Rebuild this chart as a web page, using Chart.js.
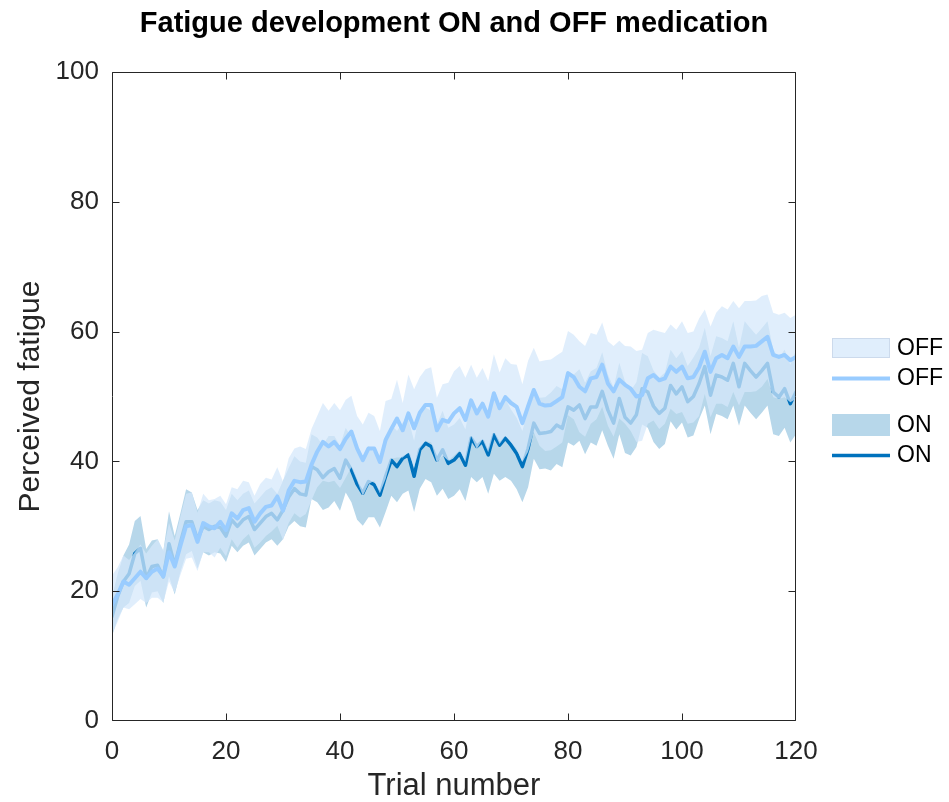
<!DOCTYPE html>
<html><head><meta charset="utf-8">
<script src="https://cdn.jsdelivr.net/npm/chart.js@4.4.1/dist/chart.umd.min.js"></script>
<style>html,body{margin:0;padding:0;background:#fff}#wrap{width:949px;height:802px;position:relative}</style>
</head><body><div id="wrap"><canvas id="c" width="949" height="802"></canvas></div>
<script>
// ---- data (trial number = array index 0..120) ----
const offMean = [17.9,19.5,21.5,21.0,22.0,23.0,22.0,23.0,23.5,22.3,
 26.0,23.8,27.0,30.0,30.2,27.6,30.5,30.0,29.7,30.7,
 29.4,32.0,31.2,32.5,32.8,30.7,32.0,33.0,33.2,34.6,
 32.4,35.5,37.0,36.8,36.9,39.5,41.5,43.0,42.3,43.0,
 41.9,43.5,44.6,42.0,40.2,42.0,42.0,39.9,43.3,45.0,
 46.6,44.8,47.4,45.1,47.5,48.7,48.7,44.8,46.4,46.1,
 47.4,48.2,46.4,49.4,47.4,48.9,46.9,50.5,48.2,49.9,
 49.0,48.4,45.9,48.5,51.0,48.9,48.6,48.7,49.3,49.9,
 53.6,53.0,51.5,50.8,52.8,53.0,54.9,52.0,50.8,52.6,
 51.8,51.2,50.0,50.2,52.8,53.3,52.5,52.8,54.6,53.8,
 54.6,52.8,53.0,54.5,56.9,53.8,55.9,56.4,55.9,57.7,
 56.1,57.7,57.7,57.8,58.5,59.2,56.4,56.1,56.4,55.6,
 56.1];
const offSem = [4.5,4.2,4.0,3.8,4.0,4.2,3.8,4.0,4.5,4.0,4.5,
 4.0,4.5,5.0,5.0,4.5,4.5,4.0,4.5,4.0,4.0,
 4.0,4.5,4.5,4.0,4.0,4.5,4.5,4.0,4.5,4.5,
 5.0,5.0,5.5,5.0,5.5,5.5,6.0,5.5,6.0,6.0,
 6.0,5.5,5.0,5.5,5.5,5.0,4.8,6.0,4.6,6.0,
 4.2,6.0,6.0,5.5,5.5,5.8,5.0,5.5,6.0,6.5,
 6.5,6.5,5.5,5.5,5.5,5.5,6.0,5.5,6.0,6.0,
 6.5,6.0,7.0,6.5,6.5,7.0,7.0,7.0,7.0,6.5,
 6.5,7.0,7.0,7.0,6.5,6.5,6.5,7.0,6.0,6.0,
 6.5,7.0,7.0,7.0,7.0,7.5,7.0,6.5,6.5,7.0,
 7.0,7.0,7.5,6.5,7.0,7.0,7.5,7.5,7.0,7.5,
 7.0,7.0,7.0,7.0,6.5,6.5,6.5,6.5,6.5,6.5];
const onMean = [16.1,19.2,21.5,22.7,25.8,26.6,22.0,23.8,24.0,22.2,
 27.3,24.0,27.5,30.7,30.7,28.0,30.0,29.5,30.0,29.8,
 28.5,31.0,30.0,31.0,31.5,29.5,30.5,31.5,32.0,31.0,
 32.5,34.5,35.8,35.0,34.8,39.2,38.7,37.5,38.4,38.9,
 37.4,40.2,38.7,36.5,35.1,36.9,36.4,34.8,37.7,40.2,
 39.2,40.5,41.0,37.7,41.8,42.8,42.3,40.2,41.8,39.7,
 40.2,41.2,39.4,43.6,42.3,43.1,41.0,44.1,42.5,43.6,
 42.5,41.2,39.2,42.0,45.9,44.3,44.4,44.6,45.6,45.1,
 48.4,47.9,48.7,46.6,48.4,48.4,50.8,47.9,45.9,49.7,
 46.8,45.9,47.2,51.2,50.7,48.5,47.4,48.2,51.7,50.4,
 51.5,49.2,50.0,52.0,54.6,50.2,53.3,53.0,52.5,55.1,
 51.5,55.1,54.0,53.0,54.0,55.1,50.7,49.9,51.2,48.9,
 50.7];
const onSem = [3.0,3.5,4.0,4.5,5.0,5.0,4.5,4.0,4.0,4.0,5.0,
 4.5,4.5,5.0,4.5,4.5,4.0,4.0,4.0,4.0,4.0,
 4.0,4.0,4.0,4.0,4.0,4.0,4.0,4.0,4.0,4.5,
 4.5,5.0,5.0,5.0,5.0,5.0,5.0,5.5,5.0,5.0,
 5.0,5.0,5.5,5.0,5.5,5.0,5.0,5.5,5.5,5.5,
 5.5,5.5,5.5,6.0,5.5,5.5,5.5,6.0,5.5,5.5,
 5.5,5.5,6.0,5.5,5.5,6.0,6.0,5.5,6.0,5.5,
 5.5,5.5,6.0,5.5,5.5,5.5,6.0,6.0,6.0,5.5,
 5.5,5.5,5.5,5.5,6.0,6.0,5.5,5.5,5.5,5.5,
 5.0,5.0,5.5,5.5,5.5,5.5,5.5,5.5,5.5,5.5,
 5.5,6.0,5.5,6.0,6.0,6.0,6.0,6.0,6.5,6.0,
 6.5,6.5,6.5,6.5,6.5,6.5,6.0,6.0,6.0,6.5];
const xTicks = [0,20,40,60,80,100,120];
const yTicks = [0,20,40,60,80,100];
const legendLabels = ['OFF','OFF','ON','ON'];
const titleText = 'Fatigue development ON and OFF medication';

// ---- styles ----
const ON_FILL = 'rgb(183,215,234)';
const OFF_FILL = 'rgba(212,232,251,0.73)';
const OFF_LINE = 'rgb(153,204,255)';
const ON_LINE = 'rgb(0,114,189)';
const AX = '#262626';
const FONT = '"Liberation Sans", Arial, Helvetica, sans-serif';
const NONE = 'rgba(0,0,0,0)';

const pts = a => a.map((v,i)=>({x:i,y:v}));
const band = (m,s,sign) => m.map((v,i)=>({x:i,y:v+sign*s[i]}));

const decor = {
  id:'decor',
  afterDatasetsDraw(chart){
    const {ctx, chartArea:a, scales:{x,y}} = chart;
    ctx.save();
    ctx.strokeStyle = AX; ctx.lineWidth = 1;
    const L=Math.round(a.left)+0.5, R=Math.round(a.right)-0.5, T=Math.round(a.top)+0.5, B=Math.round(a.bottom)-0.5;
    ctx.beginPath();
    ctx.rect(L,T,R-L,B-T);
    const tl = 7;
    xTicks.forEach(v=>{const px=Math.min(R,Math.max(L,Math.round(x.getPixelForValue(v))+0.5)); ctx.moveTo(px,B); ctx.lineTo(px,B-tl); ctx.moveTo(px,T); ctx.lineTo(px,T+tl);});
    yTicks.forEach(v=>{const py=Math.min(B,Math.max(T,Math.round(y.getPixelForValue(v))+0.5)); ctx.moveTo(L,py); ctx.lineTo(L+tl,py); ctx.moveTo(R,py); ctx.lineTo(R-tl,py);});
    ctx.stroke();
    ctx.restore();
  },
  afterDraw(chart){
    const {ctx, chartArea:a} = chart;
    ctx.save();
    // title
    ctx.fillStyle = '#000';
    ctx.font = 'bold 29px ' + FONT;
    ctx.textAlign = 'center'; ctx.textBaseline = 'alphabetic';
    ctx.fillText(titleText, (a.left+a.right)/2, 32);
    // legend
    const lx = 832, lw = 58, tx = 897;
    ctx.font = '23px ' + FONT; ctx.textAlign='left'; ctx.textBaseline='middle';
    ctx.fillStyle = OFF_FILL; ctx.fillRect(lx,338,lw,20);
    ctx.strokeStyle='rgba(190,205,225,0.6)'; ctx.lineWidth=1; ctx.strokeRect(lx+0.5,338.5,lw-1,19);
    ctx.fillStyle='#000'; ctx.fillText(legendLabels[0], tx, 349);
    ctx.strokeStyle = OFF_LINE; ctx.lineWidth = 4; ctx.beginPath(); ctx.moveTo(lx,378.5); ctx.lineTo(lx+lw,378.5); ctx.stroke();
    ctx.fillText(legendLabels[1], tx, 379);
    ctx.fillStyle = ON_FILL; ctx.fillRect(lx,414,lw,22);
    ctx.fillStyle='#000'; ctx.fillText(legendLabels[2], tx, 426);
    ctx.strokeStyle = ON_LINE; ctx.lineWidth = 3.5; ctx.beginPath(); ctx.moveTo(lx,455.5); ctx.lineTo(lx+lw,455.5); ctx.stroke();
    ctx.fillText(legendLabels[3], tx, 456);
    ctx.restore();
  }
};

const lineCommon = {pointRadius:0, pointHoverRadius:0, tension:0, borderJoinStyle:'round', borderCapStyle:'round'};

new Chart(document.getElementById('c'), {
  type:'line',
  data:{datasets:[
    Object.assign({label:'OFF', data:pts(offMean), borderColor:OFF_LINE, borderWidth:4, fill:false, order:1}, lineCommon),
    Object.assign({label:'OFF band', data:band(offMean,offSem,1), borderColor:NONE, borderWidth:0.01, backgroundColor:OFF_FILL, fill:{target:3}, order:2}, lineCommon),
    Object.assign({label:'ON', data:pts(onMean), borderColor:ON_LINE, borderWidth:3.5, fill:false, order:3}, lineCommon),
    Object.assign({label:'OFF low', data:band(offMean,offSem,-1), borderColor:NONE, borderWidth:0.01, fill:false, order:2}, lineCommon),
    Object.assign({label:'ON band', data:band(onMean,onSem,1), borderColor:NONE, borderWidth:0.01, backgroundColor:ON_FILL, fill:{target:5}, order:4}, lineCommon),
    Object.assign({label:'ON low', data:band(onMean,onSem,-1), borderColor:NONE, borderWidth:0.01, fill:false, order:4}, lineCommon)
  ]},
  options:{
    responsive:false, animation:false, events:[],
    layout:{padding:{top:72,right:153,left:0,bottom:0}},
    plugins:{legend:{display:false}, title:{display:false}, tooltip:{enabled:false}},
    scales:{
      x:{type:'linear', min:0, max:120,
        afterFit(s){s.height=81;},
        afterBuildTicks(s){s.ticks = xTicks.map(v=>({value:v}));},
        grid:{display:false, drawTicks:false}, border:{display:false},
        ticks:{color:AX, font:{family:FONT,size:26}, padding:15, maxRotation:0},
        title:{display:true, text:'Trial number', color:AX, font:{family:FONT,size:31}, padding:{top:0,bottom:-3}}
      },
      y:{type:'linear', min:0, max:100,
        afterFit(s){s.width=112;},
        afterBuildTicks(s){s.ticks = yTicks.map(v=>({value:v}));},
        grid:{display:false, drawTicks:false}, border:{display:false},
        ticks:{color:AX, font:{family:FONT,size:26}, padding:13},
        title:{display:true, text:'Perceived fatigue', color:AX, font:{family:FONT,size:30}, padding:{top:13,bottom:0}}
      }
    }
  },
  plugins:[decor]
});
</script></body></html>
